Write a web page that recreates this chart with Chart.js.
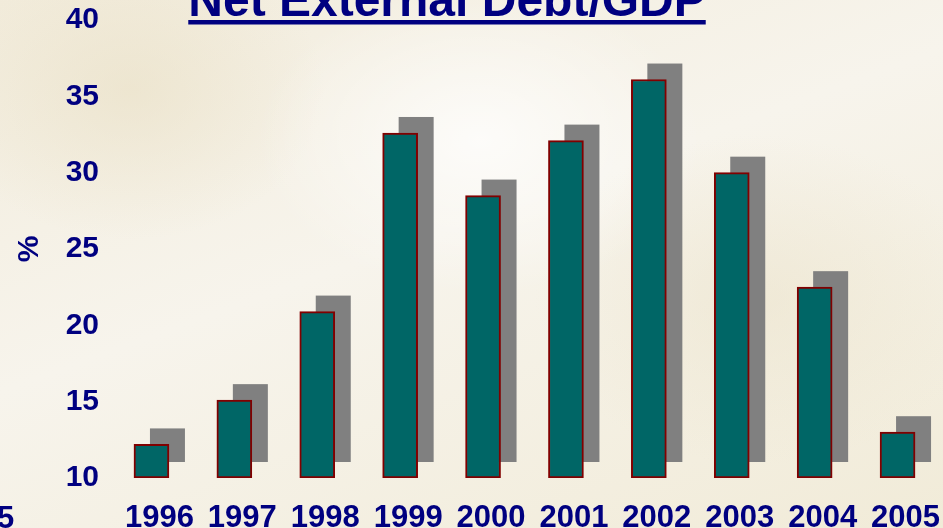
<!DOCTYPE html>
<html>
<head>
<meta charset="utf-8">
<title>Net External Debt/GDP</title>
<script src="https://cdn.jsdelivr.net/npm/chart.js@4/dist/chart.umd.min.js"></script>
<style>
  html, body { margin: 0; padding: 0; }
  body {
    width: 943px;
    height: 528px;
    overflow: hidden;
    background:
      radial-gradient(ellipse 320px 220px at 480px 140px, rgba(255,255,255,0.75), rgba(255,255,255,0) 70%),
      radial-gradient(ellipse 260px 200px at 130px 90px, rgba(232,222,194,0.55), rgba(232,222,194,0) 75%),
      radial-gradient(ellipse 300px 220px at 760px 300px, rgba(236,228,205,0.6), rgba(236,228,205,0) 75%),
      linear-gradient(160deg, #f2ecdc 0%, #f7f4ec 45%, #f1ebd8 100%);
  }
  #wrap { position: relative; width: 943px; height: 528px; }
</style>
</head>
<body>
<div id="wrap"><canvas id="chart" width="943" height="528"></canvas></div>
<script>
// Данные: чистый внешний долг в % ВВП
const years = ['1996', '1997', '1998', '1999', '2000', '2001', '2002', '2003', '2004', '2005'];
const debtToGdp = [12.2, 15.1, 20.9, 32.6, 28.5, 32.1, 36.1, 30.0, 22.5, 13.0];
const yTicks = [10, 15, 20, 25, 30, 35, 40];

const NAVY = '#000080';
const FONT = '"Liberation Sans", Arial, sans-serif';
const SHADOW_SHIFT = 16; // смещение серой тени вправо и вверх

// Серая тень под каждым столбцом
const barShadow = {
  id: 'barShadow',
  beforeDatasetsDraw(chart) {
    const ctx = chart.ctx;
    ctx.save();
    ctx.fillStyle = '#808080';
    chart.getDatasetMeta(0).data.forEach((bar) => {
      const { x, y, base, width } = bar.getProps(['x', 'y', 'base', 'width'], true);
      ctx.fillRect(x - width / 2 + SHADOW_SHIFT, y - SHADOW_SHIFT, width, base - y);
    });
    ctx.restore();
  },
};

// Заголовок с подчёркиванием (стандартный title не умеет underline)
const underlinedTitle = {
  id: 'underlinedTitle',
  afterDraw(chart) {
    const ctx = chart.ctx;
    const text = 'Net External Debt/GDP';
    const cx = 447;
    ctx.save();
    ctx.font = 'bold 48px ' + FONT;
    ctx.fillStyle = NAVY;
    ctx.textAlign = 'center';
    ctx.textBaseline = 'alphabetic';
    ctx.fillText(text, cx, 16);
    const w = ctx.measureText(text).width;
    ctx.fillRect(cx - w / 2, 20, w, 4.5);

    // обрезанная подпись соседнего графика слева внизу
    ctx.font = 'bold 31px ' + FONT;
    ctx.textAlign = 'left';
    ctx.fillText('5', -3, 528);
    ctx.restore();
  },
};

const ctx = document.getElementById('chart').getContext('2d');

new Chart(ctx, {
  type: 'bar',
  data: {
    labels: years,
    datasets: [
      {
        data: debtToGdp,
        base: yTicks[0], // столбцы растут от нижней границы оси
        backgroundColor: '#006666',
        borderColor: '#800000',
        borderWidth: 2,
        borderSkipped: false,
        barThickness: 35,
      },
    ],
  },
  options: {
    responsive: false,
    animation: false,
    layout: { padding: { top: 20, right: 4, bottom: 0, left: 0 } },
    plugins: {
      legend: { display: false },
      tooltip: { enabled: false },
    },
    scales: {
      x: {
        grid: { display: false, drawTicks: false },
        border: { display: false },
        ticks: {
          color: NAVY,
          font: { family: FONT, size: 31, weight: 'bold' },
          padding: 22,
          labelOffset: 8,
          maxRotation: 0,
          autoSkip: false,
        },
        afterFit: (scale) => {
          scale.height = 50;
          scale.paddingLeft = 0;
          scale.paddingRight = 0;
        },
      },
      y: {
        min: 10,
        max: 40,
        grid: { display: false, drawTicks: false },
        border: { display: false },
        ticks: {
          color: NAVY,
          font: { family: FONT, size: 30, weight: 'bold' },
          padding: 11,
        },
        afterBuildTicks: (scale) => { scale.ticks = yTicks.map((v) => ({ value: v })); },
        afterFit: (scale) => {
          scale.width = 110;
          scale.paddingTop = 0;
          scale.paddingBottom = 0;
        },
        title: {
          display: true,
          text: '%',
          color: NAVY,
          font: { family: FONT, size: 30, weight: 'bold' },
          padding: { top: 12, bottom: 0 },
        },
      },
    },
  },
  plugins: [barShadow, underlinedTitle],
});
</script>
</body>
</html>
